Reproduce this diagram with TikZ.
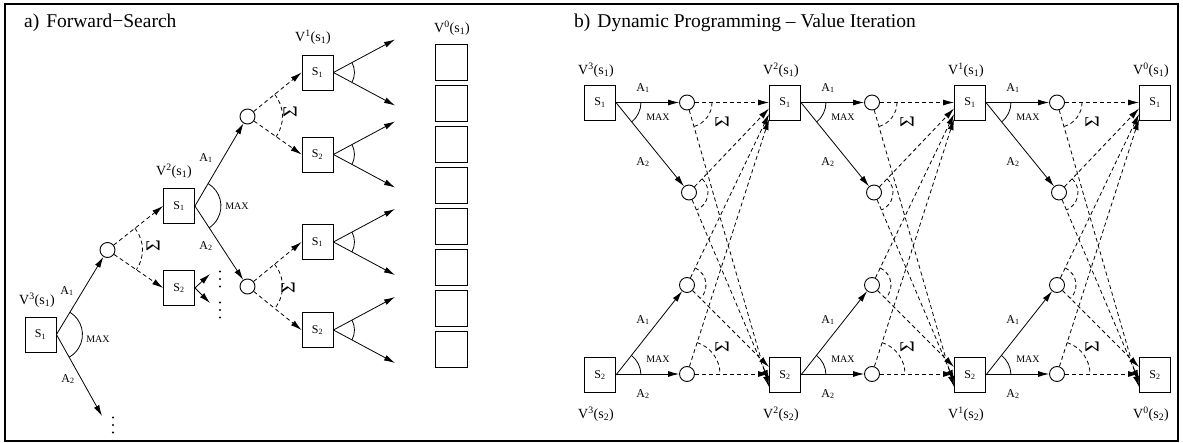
\documentclass[tikz,border=0pt]{standalone}
\usepackage{fontspec}
\setmainfont{Liberation Serif}
\usetikzlibrary{arrows.meta,calc}
\newcommand\fs[1]{\fontsize{#1}{#1}\selectfont}
\newcommand\Vl[2]{V\textsuperscript{#1}(s\textsubscript{#2})}
\newcommand\angarc[5][]{%
  \draw[#1] let \p1=($(#3)-(#2)$), \p2=($(#4)-(#2)$),
    \n1={atan2(\y1,\x1)}, \n2={atan2(\y2,\x2)} in
    ($(#2)+(\n1:#5pt)$) arc[start angle=\n1, end angle=\n2, radius=#5pt];}
\newcommand\vdotsat[2]{%
  \fill (#1,#2-7.5) circle[radius=1.2pt] (#1,#2) circle[radius=1.2pt] (#1,#2+7.5) circle[radius=1.2pt];}
\begin{document}
\begin{tikzpicture}[x=1pt,y=-1pt,
  box/.style={draw, line width=0.9pt, minimum width=31pt, minimum height=35pt, inner sep=0pt, font=\fs{12}},
  circ/.style={draw, circle, line width=0.9pt, minimum size=15pt, inner sep=0pt},
  arr/.style={line width=0.8pt, -{Latex[length=11pt,width=6pt]}},
  darr/.style={arr, dash pattern=on 4pt off 3pt},
  lab/.style={font=\fs{12}, inner sep=0pt},
  vlab/.style={font=\fs{14}, inner sep=0pt},
  maxlab/.style={font=\fs{10}, inner sep=0pt},
  sig/.style={font=\fs{20}, inner sep=0pt, rotate=90},
  title/.style={font=\fs{19.5}, inner sep=0pt, anchor=west},
  marc/.style={line width=0.8pt},
  sarc/.style={line width=0.8pt, dash pattern=on 4pt off 3pt},
]
\useasboundingbox (0,0) rectangle (1183,443);
\draw[line width=1.1pt] (5,4) rectangle (1178,441);
\node[title] (ta) at (24,23) {a)\hspace{7pt}Forward−Search};
\node[title] (tb) at (574,23) {b)\hspace{7pt}Dynamic Programming – Value Iteration};

% ---------------- panel a ----------------
\node[box] (a0) at (40.5,334.5) {S\textsubscript{1}};
\node[vlab] (va0) at (37,300) {\Vl{3}{1}};
\node[circ] (ac1) at (107.5,250) {};
\coordinate (a0d) at (102,416);
\draw[arr] (a0.east) -- (ac1);
\draw[arr] (a0.east) -- (a0d);
\angarc[marc]{a0.east}{ac1}{a0d}{26}
\node[lab] (la1) at (67,291) {A\textsubscript{1}};
\node[lab] (la2) at (68,379) {A\textsubscript{2}};
\node[maxlab] (lm0) at (98,339) {MAX};
\vdotsat{113}{425}

\node[box] (a1) at (179,206) {S\textsubscript{1}};
\node[box] (a2) at (179,288) {S\textsubscript{2}};
\node[vlab] (va1) at (174,171) {\Vl{2}{1}};
\draw[darr] (ac1) -- (a1.west);
\draw[darr] (ac1) -- (a2.west);
\angarc[sarc]{ac1}{a1.west}{a2.west}{35}
\node[sig] (s0) at (153,246) {Σ};

\coordinate (a2u) at (210,274);
\coordinate (a2d) at (210,303);
\draw[arr] (a2.east) -- (a2u);
\draw[arr] (a2.east) -- (a2d);
\vdotsat{220}{279}
\vdotsat{220}{310}

\node[circ] (ac2) at (247.5,116.5) {};
\node[circ] (ac3) at (247.5,286.5) {};
\draw[arr] (a1.east) -- (ac2);
\draw[arr] (a1.east) -- (ac3);
\angarc[marc]{a1.east}{ac2}{ac3}{26}
\node[lab] (la3) at (206,158) {A\textsubscript{1}};
\node[lab] (la4) at (206,246) {A\textsubscript{2}};
\node[maxlab] (lm1) at (237,206) {MAX};

\node[box] (a11) at (317.5,72.5) {S\textsubscript{1}};
\node[box] (a12) at (317.5,154.5) {S\textsubscript{2}};
\node[box] (a21) at (317.5,242) {S\textsubscript{1}};
\node[box] (a22) at (317.5,330) {S\textsubscript{2}};
\node[vlab] (va2) at (313,37) {\Vl{1}{1}};
\draw[darr] (ac2) -- (a11.west);
\draw[darr] (ac2) -- (a12.west);
\angarc[sarc]{ac2}{a11.west}{a12.west}{35}
\node[sig] (s1) at (290,112) {Σ};
\draw[darr] (ac3) -- (a21.west);
\draw[darr] (ac3) -- (a22.west);
\angarc[sarc]{ac3}{a21.west}{a22.west}{35}
\node[sig] (s2) at (288,288) {Σ};

\foreach \nm/\yy in {a11/72.5,a12/154.5,a21/242,a22/330} {
  \coordinate (\nm-u) at (395,\yy-33);
  \coordinate (\nm-d) at (395,\yy+33);
  \draw[arr] (\nm.east) -- (\nm-u);
  \draw[arr] (\nm.east) -- (\nm-d);
  \angarc[marc]{\nm.east}{\nm-u}{\nm-d}{21}
}

\node[vlab] (va3) at (452,28) {\Vl{0}{1}};
\foreach \k in {0,...,7} {
  \node[box, minimum width=32pt, minimum height=36pt] (v0b\k) at (451,62.2+41.07*\k) {};
}

% ---------------- panel b ----------------
\foreach \j in {0,1,2,3} {
  \pgfmathsetmacro\X{600+185*\j}
  \pgfmathtruncatemacro\kk{3-\j}
  \node[box] (p\j) at (\X,102.5) {S\textsubscript{1}};
  \node[box] (q\j) at (\X,375) {S\textsubscript{2}};
  \node[vlab] (vp\j) at (\X-4,70) {\Vl{\kk}{1}};
  \node[vlab] (vq\j) at (\X-4,414) {\Vl{\kk}{2}};
}
\foreach \i in {0,1,2} {
  \pgfmathsetmacro\X{600+185*\i}
  \pgfmathtruncatemacro\nx{\i+1}
  \node[circ] (c1-\i) at (\X+87,102.5) {};
  \node[circ] (c2-\i) at (\X+89,192.5) {};
  \node[circ] (c3-\i) at (\X+87,285) {};
  \node[circ] (c4-\i) at (\X+87,374) {};
  % solid action arrows
  \draw[arr] (p\i.east) -- (c1-\i);
  \draw[arr] (p\i.east) -- (c2-\i);
  \angarc[marc]{p\i.east}{c1-\i}{c2-\i}{25}
  \draw[arr] (q\i.east |- c4-\i) -- (c4-\i);
  \draw[arr] (q\i.east) -- (c3-\i);
  \angarc[marc]{q\i.east}{c4-\i}{c3-\i}{25}
  \node[lab] (lpa\i) at (\X+43,88) {A\textsubscript{1}};
  \node[maxlab] (lpm\i) at (\X+58,117) {MAX};
  \node[lab] (lpb\i) at (\X+43,162) {A\textsubscript{2}};
  \node[lab] (lqa\i) at (\X+43,320) {A\textsubscript{1}};
  \node[maxlab] (lqm\i) at (\X+58,359) {MAX};
  \node[lab] (lqb\i) at (\X+43,394) {A\textsubscript{2}};
  % targets on next boxes
  \coordinate (t1p-\i) at (p\nx.west);
  \coordinate (t2p-\i) at ($(p\nx.west)+(0,6)$);
  \coordinate (t3p-\i) at ($(p\nx.west)+(0,11.5)$);
  \coordinate (t4p-\i) at ($(p\nx.west)+(0,16.5)$);
  \coordinate (t1q-\i) at ($(q\nx.west)+(0,12)$);
  \coordinate (t2q-\i) at ($(q\nx.west)+(0,6)$);
  \coordinate (t3q-\i) at ($(q\nx.west)+(0,-8)$);
  \coordinate (t4q-\i) at (q\nx.west |- c4-\i);
  \foreach \r in {1,2,3,4} {
    \draw[darr] (c\r-\i) -- (t\r p-\i);
    \draw[darr] (c\r-\i) -- (t\r q-\i);
  }
  \angarc[sarc]{c1-\i}{t1p-\i}{t1q-\i}{25}
  \angarc[sarc]{c2-\i}{t2p-\i}{t2q-\i}{19}
  \angarc[sarc]{c3-\i}{t3p-\i}{t3q-\i}{19}
  \angarc[sarc]{c4-\i}{t4p-\i}{t4q-\i}{33}
  \node[sig] (sp\i) at (\X+122,122) {Σ};
  \node[sig] (sq\i) at (\X+122,347) {Σ};
}
\end{tikzpicture}
\end{document}
